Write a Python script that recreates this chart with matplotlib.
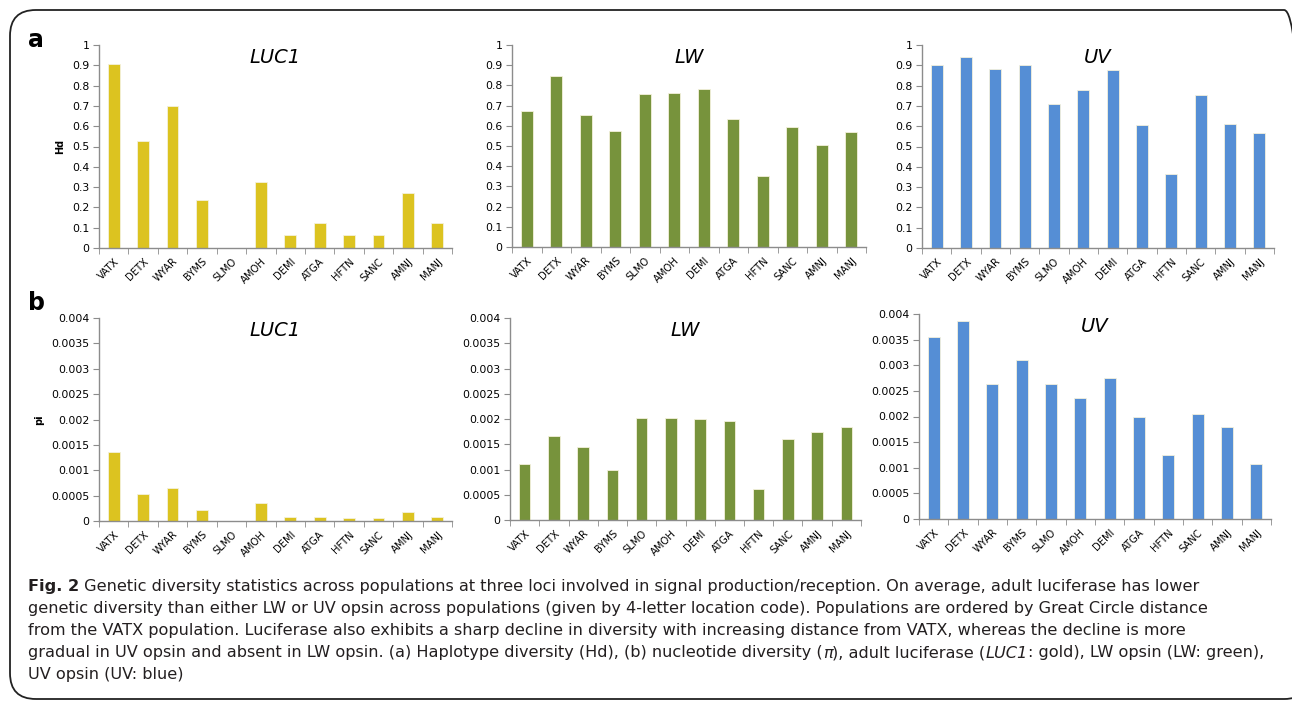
import numpy as np
import matplotlib
matplotlib.use("Agg")
import matplotlib.pyplot as plt
from matplotlib.patches import FancyBboxPatch
from matplotlib.transforms import IdentityTransform

W, H = 1292, 711

pops = ['VATX', 'DETX', 'WYAR', 'BYMS', 'SLMO', 'AMOH', 'DEMI', 'ATGA', 'HFTN', 'SANC', 'AMNJ', 'MANJ']

# haplotype diversity (Hd)
hd_luc1 = [0.905, 0.525, 0.70, 0.235, 0.0, 0.327, 0.062, 0.125, 0.062, 0.062, 0.27, 0.125]
hd_lw = [0.673, 0.845, 0.655, 0.575, 0.755, 0.76, 0.784, 0.636, 0.352, 0.593, 0.507, 0.568]
hd_uv = [0.90, 0.94, 0.882, 0.90, 0.711, 0.778, 0.877, 0.606, 0.363, 0.753, 0.612, 0.568]

# nucleotide diversity (pi)
pi_luc1 = [0.00135, 0.00054, 0.00066, 0.00022, 0.0, 0.00036, 0.00007, 0.00007, 0.00005, 0.00005, 0.00017, 0.00007]
pi_lw = [0.0011, 0.00167, 0.00145, 0.001, 0.00202, 0.00202, 0.0020, 0.00197, 0.00061, 0.0016, 0.00175, 0.00185]
pi_uv = [0.00355, 0.00387, 0.00264, 0.0031, 0.00264, 0.00236, 0.00276, 0.0020, 0.00125, 0.00204, 0.0018, 0.00108]

hd_ticks = [0, 0.1, 0.2, 0.3, 0.4, 0.5, 0.6, 0.7, 0.8, 0.9, 1]
hd_ticklabels = ['0', '0.1', '0.2', '0.3', '0.4', '0.5', '0.6', '0.7', '0.8', '0.9', '1']
pi_ticks = [0, 0.0005, 0.001, 0.0015, 0.002, 0.0025, 0.003, 0.0035, 0.004]
pi_ticklabels = ['0', '0.0005', '0.001', '0.0015', '0.002', '0.0025', '0.003', '0.0035', '0.004']

gold, green, blue = '#DCC320', '#77933C', '#558ED5'
axis_grey = '#8c8c8c'

fig = plt.figure(figsize=(W / 100, H / 100), dpi=100)

# rounded frame round the figure
frame = FancyBboxPatch((10 / W, 12 / H), 1300 / W, 689 / H,
                       boxstyle="round,pad=0,rounding_size=0.02",
                       transform=fig.transFigure, fc='none', ec='#222222', lw=1.3,
                       mutation_aspect=W / H, clip_on=False)
fig.patches.append(frame)


def box(x0, y0, x1, y1):
    return [x0 / W, 1 - y1 / H, (x1 - x0) / W, (y1 - y0) / H]


def bar_panel(rect, vals, color, title, ticks, ticklabels, top, ylabel=None):
    ax = fig.add_axes(box(*rect))
    x = np.arange(len(pops))
    ax.bar(x, vals, width=0.4, color=color, edgecolor='#f4f1dc', linewidth=0.6, zorder=2)
    ax.set_xlim(-0.5, len(pops) - 0.5)
    ax.set_ylim(0, top)
    for s in ['top', 'right']:
        ax.spines[s].set_visible(False)
    for s in ['left', 'bottom']:
        ax.spines[s].set_color(axis_grey)
        ax.spines[s].set_linewidth(1.0)
    ax.set_yticks(ticks)
    ax.set_yticklabels(ticklabels, fontsize=7.8)
    ax.tick_params(axis='y', length=4, color=axis_grey, pad=3)
    ax.set_xticks(x)
    ax.set_xticklabels(pops, rotation=45, ha='right', rotation_mode='anchor', fontsize=7.2)
    ax.tick_params(axis='x', which='major', length=0, pad=6)
    ax.set_xticks(np.arange(-0.5, len(pops)), minor=True)
    ax.tick_params(axis='x', which='minor', length=4, color=axis_grey)
    ax.text(0.5, 0.94, title, transform=ax.transAxes, ha='center', va='center',
            fontsize=14, style='italic')
    if ylabel:
        ax.set_ylabel(ylabel, fontsize=7, fontweight='bold', labelpad=5)
    return ax


bar_panel((99, 45, 452, 248), hd_luc1, gold, 'LUC1', hd_ticks, hd_ticklabels, 1, 'Hd')
bar_panel((512, 45, 866, 247), hd_lw, green, 'LW', hd_ticks, hd_ticklabels, 1)
bar_panel((922, 45, 1274, 248), hd_uv, blue, 'UV', hd_ticks, hd_ticklabels, 1)
bar_panel((99, 318, 452, 521), pi_luc1, gold, 'LUC1', pi_ticks, pi_ticklabels, 0.004, 'pi')
bar_panel((510, 318, 861, 520), pi_lw, green, 'LW', pi_ticks, pi_ticklabels, 0.004)
bar_panel((919, 314, 1271, 519), pi_uv, blue, 'UV', pi_ticks, pi_ticklabels, 0.004)

fig.text(28 / W, 1 - 40 / H, 'a', fontsize=17, fontweight='bold', va='center', ha='left')
fig.text(28 / W, 1 - 303 / H, 'b', fontsize=17, fontweight='bold', va='center', ha='left')

# caption, written run by run so that styles can change inside a line
cap_color = '#231f20'
caption = [
    [('Fig. 2', 'bold', 'normal'),
     (' Genetic diversity statistics across populations at three loci involved in signal '
      'production/reception. On average, adult luciferase has lower', 'normal', 'normal')],
    [('genetic diversity than either LW or UV opsin across populations (given by 4-letter '
      'location code). Populations are ordered by Great Circle distance', 'normal', 'normal')],
    [('from the VATX population. Luciferase also exhibits a sharp decline in diversity with '
      'increasing distance from VATX, whereas the decline is more', 'normal', 'normal')],
    [('gradual in UV opsin and absent in LW opsin. (a) Haplotype diversity (Hd), (b) nucleotide '
      'diversity (', 'normal', 'normal'),
     ('π', 'normal', 'italic'),
     ('), adult luciferase (', 'normal', 'normal'),
     ('LUC1', 'normal', 'italic'),
     (': gold), LW opsin (LW: green),', 'normal', 'normal')],
    [('UV opsin (UV: blue)', 'normal', 'normal')],
]
line_y = [587, 609, 631, 653, 675]
renderer = fig.canvas.get_renderer()


def draw_line(runs, x0, y, size, keep=True):
    xx = x0
    for s, weight, style in runs:
        t = fig.text(xx, H - y, s, fontsize=size, family='DejaVu Sans',
                     fontweight=weight, style=style, color=cap_color, va='center', ha='left',
                     transform=IdentityTransform())
        xx += t.get_window_extent(renderer).width
        if not keep:
            t.remove()
    return xx - x0


# pick one size so the widest line ends at the right margin
widest = max(draw_line(runs, 0, -100, 10, keep=False) for runs in caption)
cap_size = 10 * 1236 / widest
for runs, yy in zip(caption, line_y):
    draw_line(runs, 28, yy, cap_size)

fig.savefig('out.png', dpi=100)
